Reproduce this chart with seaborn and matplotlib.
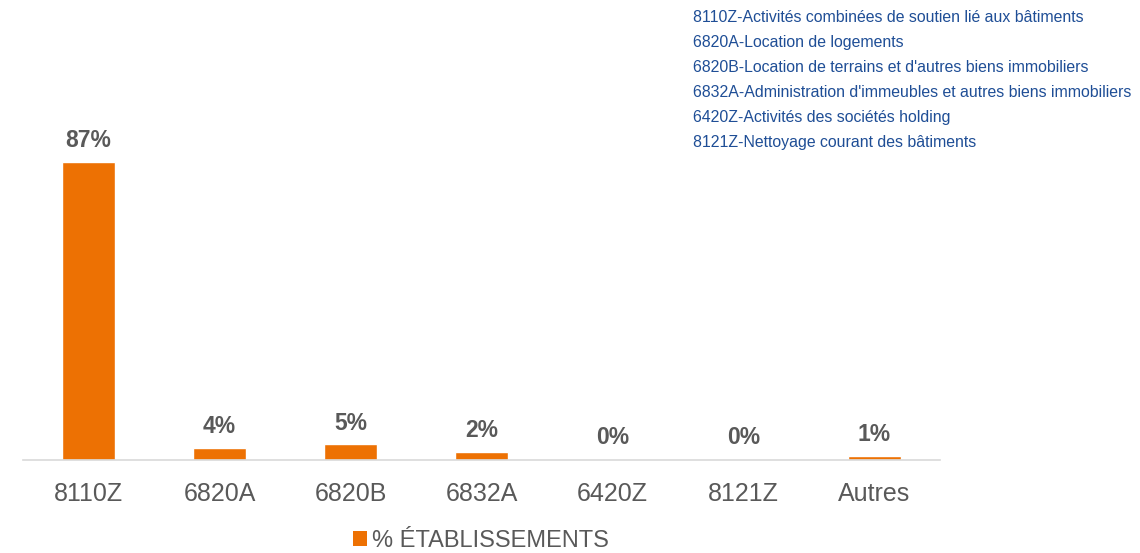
import matplotlib
matplotlib.use("Agg")
import matplotlib.pyplot as plt
import seaborn as sns
import pandas as pd
from matplotlib.patches import Patch

categories = ["8110Z", "6820A", "6820B", "6832A", "6420Z", "8121Z", "Autres"]
values = [87, 3.6, 4.6, 2.4, 0.3, 0.3, 1.2]
bar_labels = ["87%", "4%", "5%", "2%", "0%", "0%", "1%"]
series_name = "% ÉTABLISSEMENTS"
descriptions = [
    "8110Z-Activités combinées de soutien lié aux bâtiments",
    "6820A-Location de logements",
    "6820B-Location de terrains et d'autres biens immobiliers",
    "6832A-Administration d'immeubles et autres biens immobiliers",
    "6420Z-Activités des sociétés holding",
    "8121Z-Nettoyage courant des bâtiments",
]

sns.set_theme(style="white")
plt.rcParams["font.family"] = ["Liberation Sans", "DejaVu Sans"]

orange = "#ED7103"
grey = "#595959"
blue = "#1F4E96"

df = pd.DataFrame({"cat": categories, "val": values})

fig = plt.figure(figsize=(11.4, 5.53), dpi=100)
ax = fig.add_axes([23 / 1140, 93 / 553, (940 - 23) / 1140, 360 / 553])
sns.barplot(data=df, x="cat", y="val", color=orange, width=0.41, ax=ax,
            saturation=1)
ax.set_xlim(-0.5, len(categories) - 0.5)
ax.set_ylim(0, 360 / 3.425)

for i, (v, lab) in enumerate(zip(values, bar_labels)):
    ax.annotate(lab, (i, v), xytext=(0, 7), textcoords="offset points",
                ha="center", va="bottom", fontsize=16.5, fontweight="bold",
                color=grey)

for s in ["top", "right", "left"]:
    ax.spines[s].set_visible(False)
ax.spines["bottom"].set_color("#D9D9D9")
ax.spines["bottom"].set_linewidth(1.2)
ax.set_yticks([])
ax.set_xlabel("")
ax.set_ylabel("")
ax.tick_params(axis="x", length=0, pad=16, labelsize=18, labelcolor=grey)

handle = Patch(facecolor=orange, edgecolor="none")
fig.legend([handle], [series_name], loc="center", bbox_to_anchor=(481 / 1140, 1 - 541 / 553),
           frameon=False, fontsize=17, labelcolor=grey, handlelength=0.6,
           handleheight=0.6, handletextpad=0.2)

y0 = 1 - 17 / 553
for k, d in enumerate(descriptions):
    fig.text(693 / 1140, y0 - k * 25.2 / 553, d, ha="left", va="center",
             fontsize=11.4, color=blue)

fig.savefig("out.png", dpi=100)
